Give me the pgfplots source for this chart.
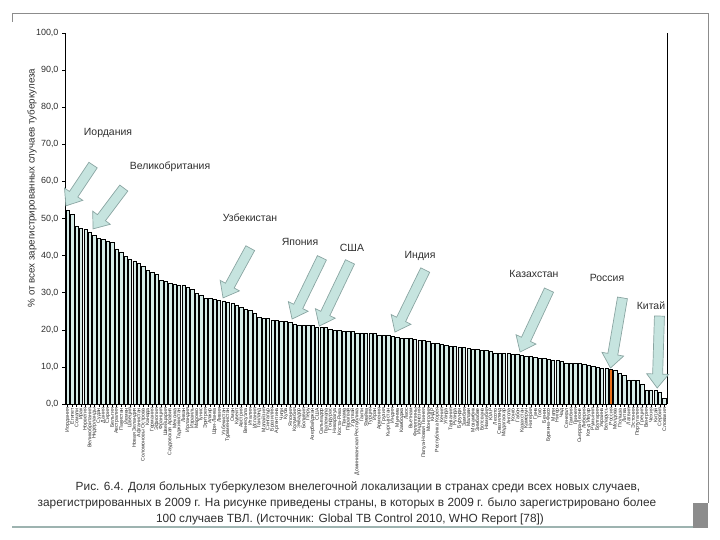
\documentclass[border=0pt]{standalone}
\usepackage{pgfplots}
\pgfplotsset{compat=1.18}
\usepackage{pgfplotstable}
\usepackage{fontspec}
\setmainfont{Liberation Sans}
\usetikzlibrary{calc}
\definecolor{barfill}{HTML}{D6ECE8}
\definecolor{arrfill}{HTML}{C6E4DF}
\definecolor{arrdraw}{HTML}{8AA5A2}
\definecolor{rus}{HTML}{E8701A}
\definecolor{txt}{HTML}{2E2E2E}
\definecolor{frame}{HTML}{8C8C8C}
\definecolor{band}{HTML}{9DB3B0}

\pgfplotstableread{
idx val
0 52.3
1 51.2
2 48.0
3 47.3
4 47.1
5 46.4
6 45.5
7 44.7
8 44.4
9 44.0
10 43.5
11 41.8
12 41.0
13 39.7
14 39.0
15 38.6
16 37.9
17 37.0
18 36.1
19 35.4
20 35.0
21 33.4
22 33.0
23 32.5
24 32.3
25 32.1
26 32.1
27 31.4
28 30.9
29 29.9
30 29.4
31 28.5
32 28.5
33 28.2
34 28.0
35 27.8
36 27.5
37 27.1
38 26.7
39 26.1
40 25.5
41 25.2
42 24.4
43 23.4
44 23.1
45 23.1
46 22.6
47 22.5
48 22.2
49 22.2
50 21.9
51 21.6
52 21.3
53 21.3
54 21.3
55 21.3
56 20.8
57 20.8
58 20.7
59 20.1
60 19.9
61 19.9
62 19.5
63 19.5
64 19.5
65 19.2
66 19.2
67 19.0
68 19.0
69 19.0
70 18.6
71 18.6
72 18.6
73 18.3
74 18.1
75 17.7
76 17.7
77 17.7
78 17.4
79 17.1
80 17.1
81 17.0
82 16.5
83 16.4
84 16.2
85 15.9
86 15.6
87 15.6
88 15.4
89 15.3
90 15.0
91 14.7
92 14.7
93 14.4
94 14.4
95 14.1
96 13.8
97 13.7
98 13.7
99 13.6
100 13.5
101 13.5
102 13.2
103 13.0
104 12.9
105 12.6
106 12.3
107 12.2
108 12.0
109 11.9
110 11.7
111 11.4
112 11.1
113 11.0
114 10.9
115 10.9
116 10.8
117 10.5
118 10.2
119 9.9
120 9.6
121 9.5
123 9.0
124 8.3
125 7.8
126 6.5
127 6.5
128 6.3
129 5.4
130 3.8
131 3.8
132 3.6
133 3.3
134 1.5
}\tbdata

\pgfplotstableread{
idx val
122 9.4
}\tbrus

% block arrow from tail #1 to tip #2
\newcommand{\barrow}[2]{%
  \coordinate (bb) at ($(#2)!14bp!(#1)$);
  \filldraw[draw=arrdraw, fill=arrfill, line width=0.7pt, line join=miter]
    ($(#1)!5bp!90:(#2)$) -- ($(bb)!5bp!90:(#2)$) -- ($(bb)!11bp!90:(#2)$) -- (#2)
    -- ($(bb)!11bp!-90:(#2)$) -- ($(bb)!5bp!-90:(#2)$) -- ($(#1)!5bp!-90:(#2)$) -- cycle;}

\begin{document}
\begin{tikzpicture}[x=1bp,y=1bp]
\path (0,0) rectangle (720,540);
% slide frame
\draw[frame, line width=0.8pt] (12,518) -- (12,527) -- (708,527) -- (708,37);
\draw[band, line width=3pt] (12,13) -- (700,13);
\fill[frame] (693,11.5) rectangle (708,37);

\begin{axis}[at={(65bp,136bp)}, anchor=south west, scale only axis,
  width=602bp, height=371bp,
  xmin=-0.6, xmax=134.6, ymin=0, ymax=100,
  axis x line*=bottom, axis y line*=left,
  axis line style={black, line width=0.8pt},
  ytick={0,10,...,100},
  yticklabel style={font=\fontsize{9}{9}\selectfont, color=txt},
  /pgf/number format/.cd, fixed, fixed zerofill, precision=1, use comma, assume math mode=true,
  /pgfplots/.cd,
  tick align=outside, major tick length=3bp,
  tick style={black, line width=0.5pt},
  xtick={0,...,134},
  xticklabels={Иордания,Египет,Сомали,Ирак,Норвегия,Великобритания,Нидерланды,Судан,Дания,Сирия,Бельгия,Австралия,Пакистан,Йемен,Швеция,Новая Зеландия,Афганистан,Соломоновы Острова,Канада,Германия,Эфиопия,Франция,Швейцария,Саудовская Аравия,Мексика,Таджикистан,Ливан,Ирландия,Израиль,Марокко,Тунис,Эритрея,Алжир,Шри-Ланка,Ливия,Узбекистан,Туркменистан,Оман,Кувейт,Австрия,Венесуэла,Италия,Испания,Таиланд,Малайзия,Сингапур,Бразилия,Аргентина,Чили,Куба,Япония,Колумбия,Эквадор,Боливия,Перу,Азербайджан,США,Сальвадор,Гватемала,Гондурас,Никарагуа,Коста-Рика,Панама,Парагвай,Уругвай,Доминиканская Республика,Гаити,Ямайка,Турция,Иран,Армения,Грузия,Кыргызстан,Индия,Мьянма,Камбоджа,Лаос,Вьетнам,Филиппины,Индонезия,Папуа-Новая Гвинея,Монголия,КНДР,Республика Корея,Кения,Уганда,Танзания,Руанда,Бурунди,Замбия,Малави,Мозамбик,Зимбабве,Ботсвана,Намибия,ЮАР,Лесото,Свазиленд,Мадагаскар,Ангола,Конго,Габон,Казахстан,Камерун,Нигерия,Гана,Того,Бенин,Буркина-Фасо,Мали,Нигер,Чад,Сенегал,Гамбия,Гвинея,Сьерра-Леоне,Либерия,Кот-д'Ивуар,Румыния,Болгария,Украина,Беларусь,Россия,Молдова,Польша,Литва,Латвия,Эстония,Португалия,Греция,Венгрия,Чехия,Китай,Сербия,Словакия},
  xticklabel style={rotate=90, anchor=east, font=\fontsize{5.2}{5.2}\selectfont, color=txt, inner sep=1pt},
  clip=false,
]
\addplot[ybar, bar width=0.75, bar shift=0pt, fill=barfill, draw=black, line width=0.5pt]
  table[x=idx, y=val] {\tbdata};
\addplot[ybar, bar width=0.75, bar shift=0pt, fill=rus, draw=black, line width=0.5pt]
  table[x=idx, y=val] {\tbrus};
\draw[black, line width=0.8pt] (rel axis cs:1,0) -- (rel axis cs:1,1);
\coordinate (t1) at (axis cs:5.7,64.4);   \coordinate (h1) at (axis cs:-0.4,53.4);
\coordinate (t2) at (axis cs:12.6,58.2);  \coordinate (h2) at (axis cs:5.7,47.2);
\coordinate (t3) at (axis cs:41,42.0);    \coordinate (h3) at (axis cs:34.9,28.6);
\coordinate (t4) at (axis cs:57.1,39.4);  \coordinate (h4) at (axis cs:50.4,22.9);
\coordinate (t5) at (axis cs:63.4,38.3);  \coordinate (h5) at (axis cs:56.5,21.0);
\coordinate (t6) at (axis cs:80.3,36.1);  \coordinate (h6) at (axis cs:73.5,19.4);
\coordinate (t7) at (axis cs:108.1,30.7); \coordinate (h7) at (axis cs:101.6,14.0);
\coordinate (t8) at (axis cs:124.6,28.6); \coordinate (h8) at (axis cs:121.9,9.7);
\coordinate (t9) at (axis cs:132.9,23.7); \coordinate (h9) at (axis cs:132.4,4.3);
\end{axis}

\barrow{t1}{h1}
\barrow{t2}{h2}
\barrow{t3}{h3}
\barrow{t4}{h4}
\barrow{t5}{h5}
\barrow{t6}{h6}
\barrow{t7}{h7}
\barrow{t8}{h8}
\barrow{t9}{h9}

\begin{scope}[every node/.style={font=\fontsize{10.5}{10.5}\selectfont, text=txt}]
\node at (108,407) {Иордания};
\node at (170,373) {Великобритания};
\node at (250,322) {Узбекистан};
\node at (300,298) {Япония};
\node at (352,292) {США};
\node at (420,284) {Индия};
\node at (534,266) {Казахстан};
\node at (607,262) {Россия};
\node at (651,234) {Китай};
\end{scope}

\node[rotate=90, font=\fontsize{9.8}{9.8}\selectfont, text=txt] at (32,352)
  {\% от всех зарегистрированных случаев туберкулеза};

\begin{scope}[every node/.style={font=\fontsize{11.9}{11.9}\selectfont, text=txt}]
\node at (358,53) {Рис. 6.4. Доля больных туберкулезом внелегочной локализации в странах среди всех новых случаев,};
\node at (347,37) {зарегистрированных в 2009 г. На рисунке приведены страны, в которых в 2009 г. было зарегистрировано более};
\node at (350,21) {100 случаев ТВЛ. (Источник: Global TB Control 2010, WHO Report [78])};
\end{scope}
\end{tikzpicture}
\end{document}
